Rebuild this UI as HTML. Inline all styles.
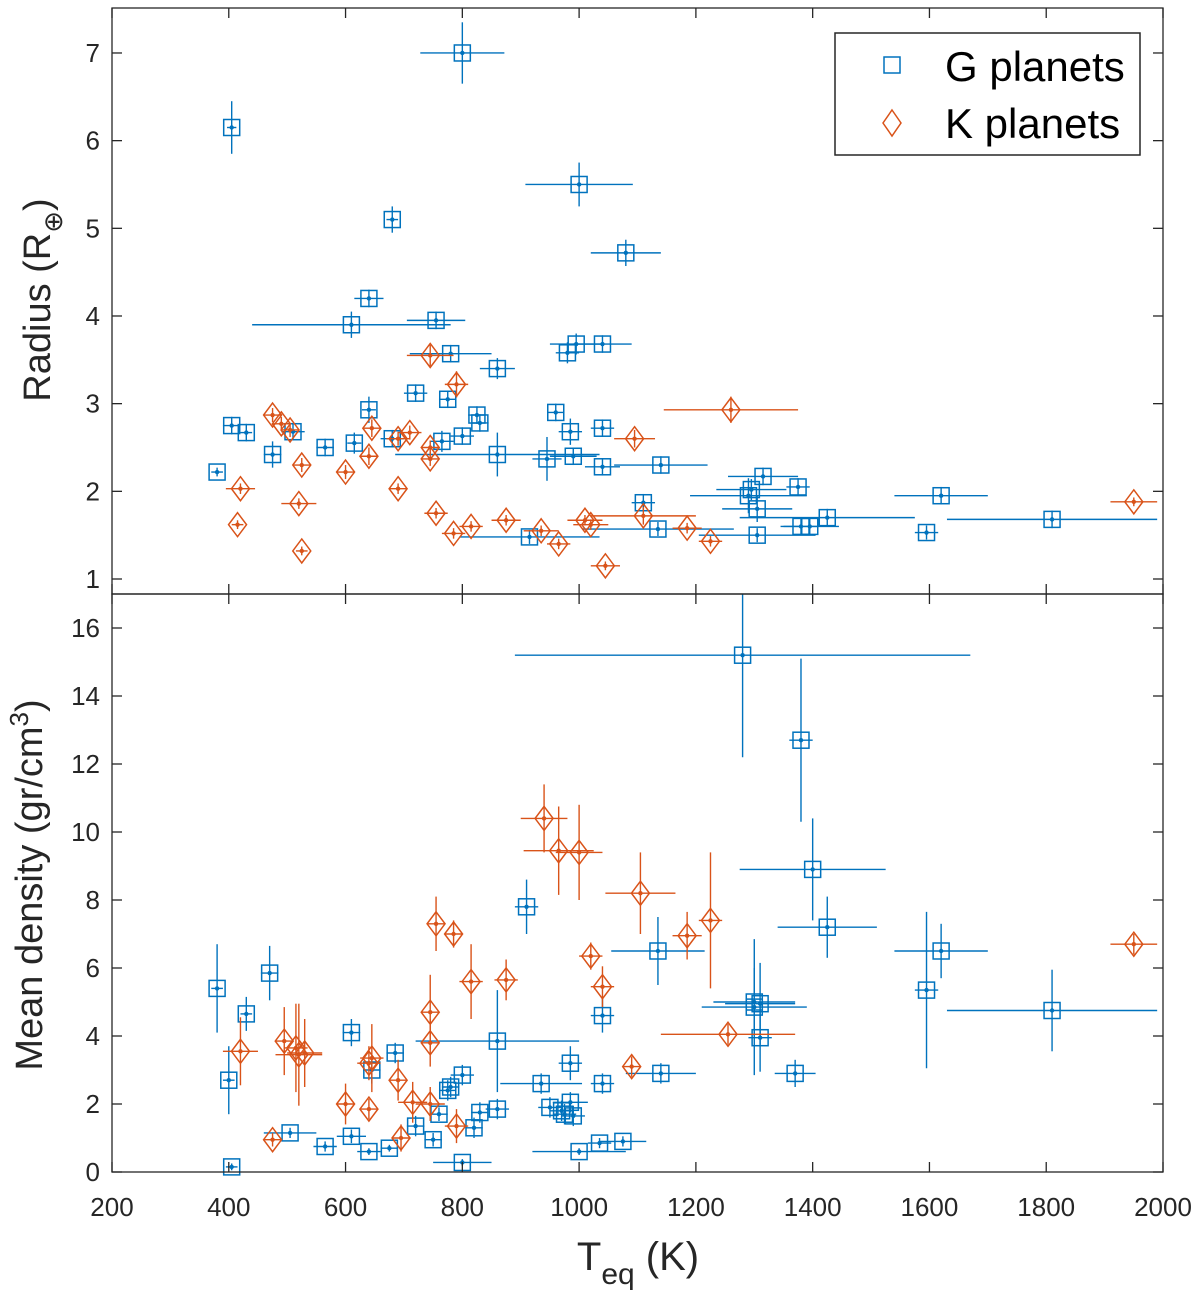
<!DOCTYPE html>
<html><head><meta charset="utf-8"><style>
html,body{margin:0;padding:0;background:#fff;}
svg{display:block;font-family:"Liberation Sans",Arial,sans-serif;}
</style></head><body>
<svg id="chart" width="1200" height="1307" viewBox="0 0 1200 1307" xmlns="http://www.w3.org/2000/svg">
<g id="marks"></g>
<g id="axes"></g>
<text transform="translate(50,300) rotate(-90)" text-anchor="middle" font-size="38" fill="#262626">Radius (R<tspan font-size="26" dy="12">⊕</tspan><tspan dy="-12">)</tspan></text>
<text transform="translate(42,885) rotate(-90)" text-anchor="middle" font-size="38" fill="#262626">Mean density (gr/cm<tspan font-size="26" dy="-14">3</tspan><tspan dy="14">)</tspan></text>
<text x="638" y="1270" text-anchor="middle" font-size="40" fill="#262626">T<tspan font-size="30" dy="14">eq</tspan><tspan dy="-14"> (K)</tspan></text>
<g>
<rect x="835" y="33" width="305" height="122" fill="#fff" stroke="#262626" stroke-width="1.5"/>
<rect x="884" y="57" width="16" height="16" fill="none" stroke="#0072BD" stroke-width="1.5"/>
<text x="945" y="81" font-size="42" fill="#000">G planets</text>
<path d="M892 110 L901 123 L892 136 L883 123 Z" fill="none" stroke="#D95319" stroke-width="1.5"/>
<text x="945" y="138" font-size="42" fill="#000">K planets</text>
</g>
</svg>
<script>
// ---- data ----
const gRadTeq = [800,405,1000,680,1080,640,610,755,780,860,980,995,1040,640,720,775,960,825,830,800,985,1040,405,430,510,475,565,615,680,765,860,945,990,1040,1140,380,1315,1375,1290,1295,1620,1110,1305,1425,1810,1380,1395,1595,1135,1305,915];
const gRadVal = [7.0,6.15,5.5,5.1,4.72,4.2,3.9,3.95,3.57,3.4,3.58,3.68,3.68,2.93,3.12,3.05,2.9,2.87,2.78,2.63,2.68,2.72,2.75,2.67,2.68,2.42,2.5,2.55,2.6,2.57,2.42,2.37,2.4,2.28,2.3,2.22,2.17,2.05,1.95,2.02,1.95,1.87,1.8,1.7,1.68,1.6,1.6,1.53,1.57,1.5,1.48];
const gRadXe = [72,8,92,10,60,25,170,50,70,30,20,45,50,12,20,15,15,15,15,20,20,20,15,10,20,15,15,12,20,20,175,25,40,30,80,10,60,20,100,60,80,20,60,150,180,30,50,20,130,100,120];
const gRadYe = [0.35,0.3,0.25,0.15,0.15,0.1,0.15,0.1,0.1,0.12,0.12,0.12,0.1,0.15,0.1,0.1,0.1,0.1,0.1,0.1,0.15,0.1,0.1,0.1,0.1,0.15,0.1,0.12,0.1,0.12,0.25,0.25,0.1,0.1,0.1,0.05,0.1,0.1,0.2,0.12,0.1,0.1,0.15,0.1,0.1,0.1,0.1,0.08,0.08,0.08,0.08];
const kRadTeq = [745,790,1260,1095,475,490,505,645,640,690,710,745,745,525,600,420,690,520,415,755,785,815,875,935,965,1010,1020,1110,1185,1225,1045,525,1950];
const kRadVal = [3.55,3.22,2.93,2.6,2.87,2.77,2.7,2.72,2.4,2.6,2.67,2.5,2.37,2.3,2.22,2.03,2.03,1.86,1.62,1.75,1.52,1.6,1.67,1.55,1.4,1.67,1.62,1.72,1.58,1.43,1.15,1.32,1.88];
const kRadXe = [40,20,115,35,15,15,15,15,15,20,20,15,15,15,15,25,15,30,10,20,20,20,25,30,20,30,30,90,25,20,25,10,40];
const kRadYe = [0.12,0.15,0.15,0.1,0.08,0.08,0.08,0.1,0.1,0.08,0.08,0.08,0.08,0.08,0.08,0.06,0.06,0.06,0.05,0.06,0.06,0.06,0.06,0.06,0.06,0.06,0.06,0.1,0.06,0.06,0.05,0.05,0.05];
const gDenTeq = [1280,1380,1400,1425,1620,1595,1810,1300,1300,1310,1310,1370,1135,1140,910,1040,1040,985,935,950,970,975,990,985,1075,1035,1000,860,860,830,820,800,780,775,760,750,800,720,685,645,640,675,610,610,565,505,470,430,380,400,405];
const gDenVal = [15.2,12.7,8.9,7.2,6.5,5.35,4.75,4.85,5.0,4.95,3.95,2.9,6.5,2.9,7.8,4.6,2.6,3.2,2.6,1.9,1.8,1.7,1.65,2.05,0.9,0.85,0.6,3.85,1.85,1.75,1.3,2.85,2.5,2.4,1.7,0.95,0.28,1.35,3.5,3.0,0.6,0.7,4.1,1.05,0.75,1.15,5.85,4.65,5.4,2.7,0.15];
const gDenYe = [3.0,2.4,1.5,0.9,0.8,2.3,1.2,2.0,1.0,1.2,1.0,0.4,1.0,0.3,0.8,0.5,0.3,0.5,0.3,0.3,0.3,0.3,0.3,0.3,0.15,0.15,0.1,1.5,0.3,0.3,0.3,0.3,0.3,0.3,0.2,0.2,0.1,0.3,0.3,0.4,0.1,0.1,0.4,0.2,0.15,0.15,0.8,0.5,1.3,1.0,0.1];
const gDenXe = [390,20,125,85,80,20,180,90,70,60,20,35,80,60,20,20,20,20,70,20,20,20,20,30,40,20,80,140,20,15,15,20,15,15,15,15,50,15,15,15,20,15,15,25,20,45,15,10,10,10,10];
const kDenTeq = [940,965,1000,1105,1225,1185,1020,1040,755,785,815,875,745,745,1255,1090,495,420,515,520,530,645,640,690,600,640,715,745,790,695,475,1950];
const kDenVal = [10.4,9.45,9.4,8.2,7.4,6.95,6.35,5.45,7.3,7.0,5.6,5.65,4.7,3.8,4.05,3.1,3.85,3.55,3.65,3.45,3.5,3.35,3.2,2.7,2.0,1.85,2.05,2.0,1.35,1.0,0.95,6.7];
const kDenYe = [1.0,1.3,1.4,1.2,2.0,0.7,0.4,0.6,0.8,0.4,1.1,0.6,1.1,0.7,0.3,0.3,1.0,1.0,1.3,1.5,1.0,1.0,0.5,0.6,0.6,0.3,0.6,0.5,0.5,0.4,0.2,0.3];
const kDenXe = [40,60,40,60,20,25,20,20,15,15,20,20,15,15,115,15,15,30,20,40,30,20,20,15,15,15,25,25,20,15,15,40];
const xTicks = [200,400,600,800,1000,1200,1400,1600,1800,2000];
const rTicks = [1,2,3,4,5,6,7];
const dTicks = [0,2,4,6,8,10,12,14,16];

// ---- axes ----
const X0=112,X1=1163;
const xs = t => X0 + (t-200)*(X1-X0)/1800;
const yr = r => 579 - (r-1)*87.67;
const yd = d => 1172 - d*34.0;
const NS="http://www.w3.org/2000/svg";
const marks=document.getElementById('marks'), axes=document.getElementById('axes');
function mk(tag, attrs, parent){const e=document.createElementNS(NS,tag);for(const k in attrs)e.setAttribute(k,attrs[k]);parent.appendChild(e);return e;}

function clipLine(x1,y1,x2,y2,top,bot){ return [x1,Math.max(top,Math.min(bot,y1)),x2,Math.max(top,Math.min(bot,y2))]; }

function series(teq,val,xe,ye,ys,color,shape,top,bot,name){
  const g=mk('g',{},marks);
  
  
  for(let i=0;i<teq.length;i++){
    const cx=xs(teq[i]), cy=ys(val[i]);
    const p=mk('g',{},g);
    
    
    mk('line',{x1:xs(teq[i]-xe[i]),y1:cy,x2:xs(teq[i]+xe[i]),y2:cy,stroke:color,'stroke-width':1.4},p);
    const v=clipLine(cx,ys(val[i]-ye[i]),cx,ys(val[i]+ye[i]),top,bot);
    mk('line',{x1:v[0],y1:v[1],x2:v[2],y2:v[3],stroke:color,'stroke-width':1.4},p);
    if(shape==='sq') mk('rect',{x:cx-8,y:cy-8,width:16,height:16,fill:'none',stroke:color,'stroke-width':1.5},p);
    else mk('path',{d:`M${cx} ${cy-12} L${cx+9} ${cy} L${cx} ${cy+12} L${cx-9} ${cy} Z`,fill:'none',stroke:color,'stroke-width':1.5},p);
    mk('circle',{cx:cx,cy:cy,r:2.2,fill:color},p);
  }
}
series(gRadTeq,gRadVal,gRadXe,gRadYe,yr,'#0072BD','sq',8,594,'g-radius-series');
series(kRadTeq,kRadVal,kRadXe,kRadYe,yr,'#D95319','dia',8,597,'k-radius-series');
series(gDenTeq,gDenVal,gDenXe,gDenYe,yd,'#0072BD','sq',594,1172,'g-density-series');
series(kDenTeq,kDenVal,kDenXe,kDenYe,yd,'#D95319','dia',594,1172,'k-density-series');

// panels
const ax='#262626';
mk('rect',{x:X0,y:8,width:X1-X0,height:586,fill:'none',stroke:ax,'stroke-width':1.3},axes);
mk('rect',{x:X0,y:594,width:X1-X0,height:578,fill:'none',stroke:ax,'stroke-width':1.3},axes);
xTicks.forEach(t=>{
  const x=xs(t);
  [[8,18],[584,594],[594,604],[1162,1172]].forEach(s=>mk('line',{x1:x,y1:s[0],x2:x,y2:s[1],stroke:ax,'stroke-width':1.3},axes));
  const tx=mk('text',{x:x,y:1216,'text-anchor':'middle','font-size':26,fill:ax},axes);
  
  
  tx.textContent=t;
});
rTicks.forEach(r=>{
  const y=yr(r);
  mk('line',{x1:X0,y1:y,x2:X0+10,y2:y,stroke:ax,'stroke-width':1.3},axes);
  mk('line',{x1:X1-10,y1:y,x2:X1,y2:y,stroke:ax,'stroke-width':1.3},axes);
  const tx=mk('text',{x:100,y:y+9,'text-anchor':'end','font-size':26,fill:ax},axes);
  
  
  tx.textContent=r;
});
dTicks.forEach(d=>{
  const y=yd(d);
  mk('line',{x1:X0,y1:y,x2:X0+10,y2:y,stroke:ax,'stroke-width':1.3},axes);
  mk('line',{x1:X1-10,y1:y,x2:X1,y2:y,stroke:ax,'stroke-width':1.3},axes);
  const tx=mk('text',{x:100,y:y+9,'text-anchor':'end','font-size':26,fill:ax},axes);
  
  
  tx.textContent=d;
});
</script>
</body></html>
